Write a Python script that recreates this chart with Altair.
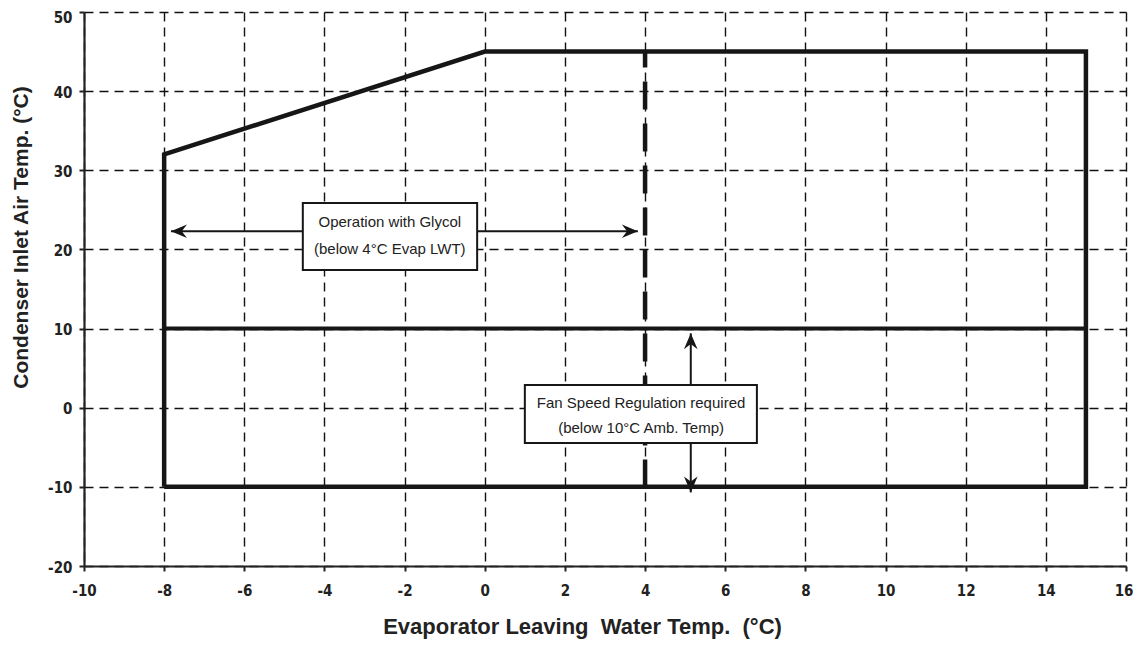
import altair as alt
import pandas as pd

# ---- data ----
x_ticks = [-10, -8, -6, -4, -2, 0, 2, 4, 6, 8, 10, 12, 14, 16]
y_ticks = [-20, -10, 0, 10, 20, 30, 40, 50]

env_x = [-8, -8, 0, 15, 15, -8]
env_y = [-10, 32, 45, 45, -10, -10]

split_x = [-8, 15]
split_y = [10, 10]

glycol_limit_x = [4]
glycol_limit_y = [45]
glycol_limit_y2 = [-10]

glycol_arrow_x = [-7.83, 3.82]
glycol_arrow_y = [22.3, 22.3]

fan_arrow_x = [5.14, 5.14]
fan_arrow_y = [9.4, -10.7]

box_x = [-4.54, 1.0]
box_x2 = [-0.19, 6.79]
box_y = [17.4, -4.46]
box_y2 = [25.87, 2.87]

text_x = [-2.37, -2.37, 3.9, 3.9]
text_y = [23.5, 20.05, 0.6, -2.55]
text_label = ["Operation with Glycol", "(below 4°C Evap LWT)",
              "Fan Speed Regulation required", "(below 10°C Amb. Temp)"]

NBSP = "\u00a0"
x_title = f"Evaporator Leaving {NBSP}Water Temp. {NBSP}(°C)"
y_title = "Condenser Inlet Air Temp. (°C)"

# ---- scales / axes ----
xscale = alt.Scale(domain=[-10, 16], nice=False, zero=False)
yscale = alt.Scale(domain=[-20, 50], nice=False, zero=False)

label_expr = "datum.value < 0 ? '-' + abs(datum.value) : '' + datum.value"
tick_font = "DejaVu Sans Condensed, DejaVu Sans"

xaxis = alt.Axis(values=x_ticks, grid=True, gridDash=[9, 6], gridColor="#111",
                 gridWidth=1.4, gridOpacity=1, domainColor="#222", domainWidth=2.2,
                 tickColor="#222", tickSize=5, tickWidth=2, labelFlush=False,
                 labelAlign={"condition": {"test": "datum.value == 16", "value": "right"},
                             "value": "center"},
                 labelOffset={"condition": {"test": "datum.value == 16", "value": 7},
                              "value": 0},
                 labelFont=tick_font, labelFontSize=15, labelFontWeight="bold",
                 labelColor="#222", labelPadding=12, labelExpr=label_expr,
                 title=x_title,
                 titleFont="Liberation Sans", titleFontSize=22, titleFontWeight="bold",
                 titleColor="#222", titleX=498, titleY=60, titleAlign="center",
                 titleBaseline="middle")
yaxis = alt.Axis(values=y_ticks, grid=True, gridDash=[9, 6], gridColor="#111",
                 gridWidth=1.4, gridOpacity=1, domainColor="#222", domainWidth=2.2,
                 tickColor="#222", tickSize=5, tickWidth=2, labelFlush=False,
                 labelFont=tick_font, labelFontSize=15, labelFontWeight="bold",
                 labelColor="#222", labelPadding=7,
                 labelOffset={"condition": {"test": "datum.value == 50", "value": 5},
                              "value": 1},
                 labelExpr=label_expr,
                 title=y_title,
                 titleFont="Liberation Sans", titleFontSize=21, titleFontWeight="bold",
                 titleColor="#222", titleX=-63, titleY=225, titleAngle=270,
                 titleAlign="center", titleBaseline="middle")


def X(f="x"):
    return alt.X(f"{f}:Q", scale=xscale, axis=xaxis)


def Y(f="y"):
    return alt.Y(f"{f}:Q", scale=yscale, axis=yaxis)


env_df = pd.DataFrame({"x": env_x, "y": env_y, "o": list(range(len(env_x)))})
split_df = pd.DataFrame({"x": split_x, "y": split_y})
limit_df = pd.DataFrame({"x": glycol_limit_x, "y": glycol_limit_y, "y2": glycol_limit_y2})
garrow_df = pd.DataFrame({"x": glycol_arrow_x, "y": glycol_arrow_y})
farrow_df = pd.DataFrame({"x": fan_arrow_x, "y": fan_arrow_y})
box_df = pd.DataFrame({"x": box_x, "x2": box_x2, "y": box_y, "y2": box_y2})
text_df = pd.DataFrame({"x": text_x, "y": text_y, "label": text_label})

ink = "#161616"

limit = alt.Chart(limit_df).mark_rule(color=ink, strokeWidth=4.5, strokeDash=[28, 14],
                                      strokeDashOffset=12).encode(
    x=X(), y=Y(), y2="y2:Q")

env = alt.Chart(env_df).mark_line(color=ink, strokeWidth=4.5, strokeJoin="miter").encode(
    x=X(), y=Y(), order="o:Q")

split = alt.Chart(split_df).mark_line(color=ink, strokeWidth=4).encode(x=X(), y=Y())

garrow = alt.Chart(garrow_df).mark_line(color=ink, strokeWidth=2).encode(x=X(), y=Y())
farrow = alt.Chart(farrow_df).mark_line(color=ink, strokeWidth=2).encode(x=X(), y=Y())

heads = []
shapes = [
    (garrow_df.iloc[[0]], "M 0 0 L 2 -0.85 L 1.35 0 L 2 0.85 Z"),
    (garrow_df.iloc[[1]], "M 0 0 L -2 -0.85 L -1.35 0 L -2 0.85 Z"),
    (farrow_df.iloc[[0]], "M 0 0 L -0.85 2 L 0 1.35 L 0.85 2 Z"),
    (farrow_df.iloc[[1]], "M 0 0 L -0.85 -2 L 0 -1.35 L 0.85 -2 Z"),
]
for df, path in shapes:
    heads.append(alt.Chart(df.reset_index(drop=True)).mark_point(
        shape=path, filled=True, size=256, color=ink, opacity=1, strokeWidth=0).encode(
        x=X(), y=Y()))

boxes = alt.Chart(box_df).mark_rect(fill="white", stroke=ink, strokeWidth=2).encode(
    x=X(), x2="x2:Q", y=Y(), y2="y2:Q")

texts = alt.Chart(text_df).mark_text(font="Liberation Sans", fontSize=15, color="#222",
                                     align="center", baseline="middle").encode(
    x=X(), y=Y(), text="label:N")

chart = alt.layer(limit, env, split, garrow, farrow, *heads, boxes, texts).properties(
    width=1042, height=554,
    autosize=alt.AutoSizeParams(type="none"),
    padding={"left": 76, "top": 4, "right": 7, "bottom": 77},
).configure_view(stroke=None)

chart.save("out.html", embed_options={"renderer": "svg", "actions": False})
